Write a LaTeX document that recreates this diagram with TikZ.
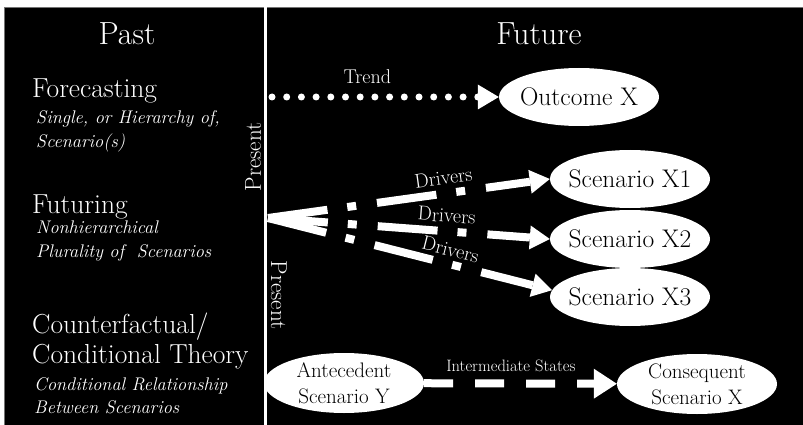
\documentclass[tikz,border=0pt]{standalone}
\usetikzlibrary{arrows.meta,shapes.geometric}
\begin{document}
\begin{tikzpicture}[x=1pt,y=-1pt,
        every node/.style={text=white, inner sep=0pt},
        title/.style={font=\fontsize{32}{36}\selectfont, anchor=base},
        method/.style={font=\fontsize{27.5}{32}\selectfont, anchor=base west},
        note/.style={font=\fontsize{18.3}{23}\selectfont\itshape, anchor=base west},
        present/.style={font=\fontsize{23}{26}\selectfont},
        scen/.style={ellipse, fill=white, text=black, minimum width=160pt, minimum height=58pt,
            inner xsep=-5pt, font=\fontsize{25.5}{30}\selectfont},
        pair/.style={scen, align=center, minimum height=60pt, inner xsep=-8pt, inner ysep=-5pt,
            font=\fontsize{21}{26}\selectfont},
        lab/.style={font=\fontsize{20}{24}\selectfont},
        trend/.style={white, line width=7pt, line cap=round, dash pattern=on 0pt off 14.7pt,
            -{Triangle[length=21pt,width=25pt,line width=0pt]}},
        driver/.style={white, line width=8pt, dash pattern=on 60pt off 20pt on 9pt off 21pt,
            -{Triangle[length=20pt,width=24pt,line width=0pt]}},
        interm/.style={white, line width=8pt, dash pattern=on 29pt off 22pt,
            -{Triangle[length=23pt,width=30pt,line width=0pt]}}]
    \useasboundingbox (0,0) rectangle (803,425);
    \fill[white] (0,0) rectangle (803,425);
    \fill[black] (4,7) rectangle (803,425);
    \draw[black!55, line width=0.6pt] (4,425) -- (4,7) -- (803,7);

    % past / future split
    \draw[white, line width=3pt] (265,7) -- (265,425);
    \node[present, rotate=90] (pres1) at (253,157) {Present};
    \node[present, rotate=-90] (pres2) at (279,295) {Present};

    \node[title] (past) at (127,45) {Past};
    \node[title] (future) at (539,45) {Future};

    % left column
    \node[method] (fore) at (32,98) {Forecasting};
    \node[note] (fore1) at (36,124) {Single, or Hierarchy of,};
    \node[note] (fore2) at (36,147) {Scenario(s)};
    \node[method] (fut) at (32,213) {Futuring};
    \node[note] (fut1) at (36,233) {Nonhierarchical};
    \node[note] (fut2) at (36,257) {Plurality of \ Scenarios};
    \node[method] (cf1) at (32,333) {Counterfactual/};
    \node[method] (cf2) at (32,363) {Conditional Theory};
    \node[note] (cf3) at (34,390) {Conditional Relationship};
    \node[note] (cf4) at (34,413) {Between Scenarios};

    % forecasting
    \coordinate (tstart) at (272,97);
    \node[scen] (outcome) at (579,97) {Outcome X};
    \draw[trend] (tstart) -- node[lab, pos=.42, above=10pt] {Trend} (outcome);

    % futuring
    \coordinate (apex) at (268,218);
    \node[scen] (s1) at (630,179) {Scenario X1};
    \node[scen] (s2) at (630,239) {Scenario X2};
    \node[scen] (s3) at (630,297) {Scenario X3};
    \draw[driver] (apex) -- node[lab, pos=.63, above=5pt, sloped] {Drivers} (s1.west);
    \draw[driver] (apex) -- node[lab, pos=.63, above=5pt, sloped] {Drivers} (s2.west);
    \draw[driver] (apex) -- node[lab, pos=.63, above=3.5pt, sloped] {Drivers} (s3.175);

    % counterfactual
    \node[pair] (ante) at (344,383) {Antecedent\\Scenario Y};
    \node[pair] (cons) at (697,384) {Consequent\\Scenario X};
    \draw[interm] (ante) -- node[lab, pos=.45, above=8pt, font=\fontsize{16.5}{19}\selectfont] {Intermediate States} (cons);
\end{tikzpicture}
\end{document}
